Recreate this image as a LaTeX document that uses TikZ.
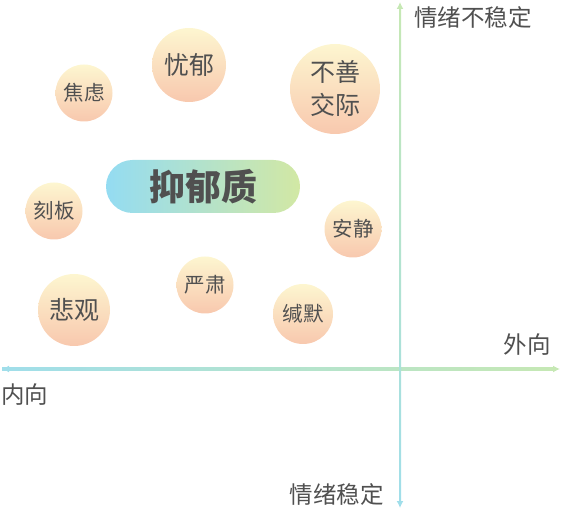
\documentclass[tikz,border=0pt]{standalone}
\usepackage{fontspec}
\setmainfont{Noto Sans CJK SC}
\usetikzlibrary{arrows.meta}

\definecolor{txtgray}{HTML}{505050}
\definecolor{ballTop}{HTML}{FDF6D0}
\definecolor{ballBot}{HTML}{F8C8AE}
\definecolor{axisCyan}{HTML}{A0DEEA}
\definecolor{axisGreen}{HTML}{C6E8B4}
\definecolor{pillL}{HTML}{94DCF2}
\definecolor{pillR}{HTML}{D2E8A4}

\begin{document}
\begin{tikzpicture}[x=1pt, y=-1pt,
  every node/.style={text=txtgray, inner sep=0pt},
  trait/.style={circle, top color=ballTop, bottom color=ballBot, align=center},
  bigtxt/.style={font=\fontsize{25}{33}\selectfont},
  smalltxt/.style={font=\fontsize{20.5}{22}\selectfont},
  axislabel/.style={font=\fontsize{23.5}{26}\selectfont},
  tip/.style={line width=2pt, -{Latex[length=7pt,width=7pt]}}]
  \useasboundingbox (0,0) rectangle (562,510);

  % axes ends
  \coordinate (west)  at (2,369);
  \coordinate (east)  at (560,369);
  \coordinate (north) at (400,2);
  \coordinate (south) at (400,508);

  % axes, shaded from cyan to green
  \shade[left color=axisCyan, right color=axisGreen] (2,368) rectangle (556,370);
  \shade[top color=axisGreen, bottom color=axisCyan] (399,6) rectangle (401,504);
  \draw[tip, axisCyan]  (10,369) -- (west);
  \draw[tip, axisGreen] (552,369) -- (east);
  \draw[tip, axisGreen] (400,10) -- (north);
  \draw[tip, axisCyan]  (400,500) -- (south);

  % axis labels
  \node[axislabel, anchor=west] (unstable) at (414,18) {情绪不稳定};
  \node[axislabel, anchor=east] (extro) at (551,345) {外向};
  \node[axislabel, anchor=west] (intro) at (1,395) {内向};
  \node[axislabel, anchor=east] (stable) at (384,495) {情绪稳定};

  % traits
  \node[trait, bigtxt, minimum size=74pt] (youyu) at (189,65) {忧郁};
  \node[trait, smalltxt, minimum size=57pt] (jiaolv) at (84,93) {焦虑};
  \node[trait, bigtxt, minimum size=90pt] (bushan) at (335,89) {不善\\交际};
  \node[trait, smalltxt, minimum size=57pt] (keban) at (54,211) {刻板};
  \node[trait, smalltxt, minimum size=57pt] (anjing) at (353,229) {安静};
  \node[trait, bigtxt, minimum size=72pt] (beiguan) at (74,310) {悲观};
  \node[trait, smalltxt, minimum size=57pt] (yansu) at (205,285) {严肃};
  \node[trait, smalltxt, minimum size=60pt] (jianmo) at (303,314) {缄默};

  % temperament label
  \node[rounded corners=26.5pt, minimum width=194pt, minimum height=53pt,
        left color=pillL, right color=pillR,
        font=\fontsize{36}{40}\selectfont\bfseries] (core) at (203,186.5) {抑郁质};
\end{tikzpicture}
\end{document}
